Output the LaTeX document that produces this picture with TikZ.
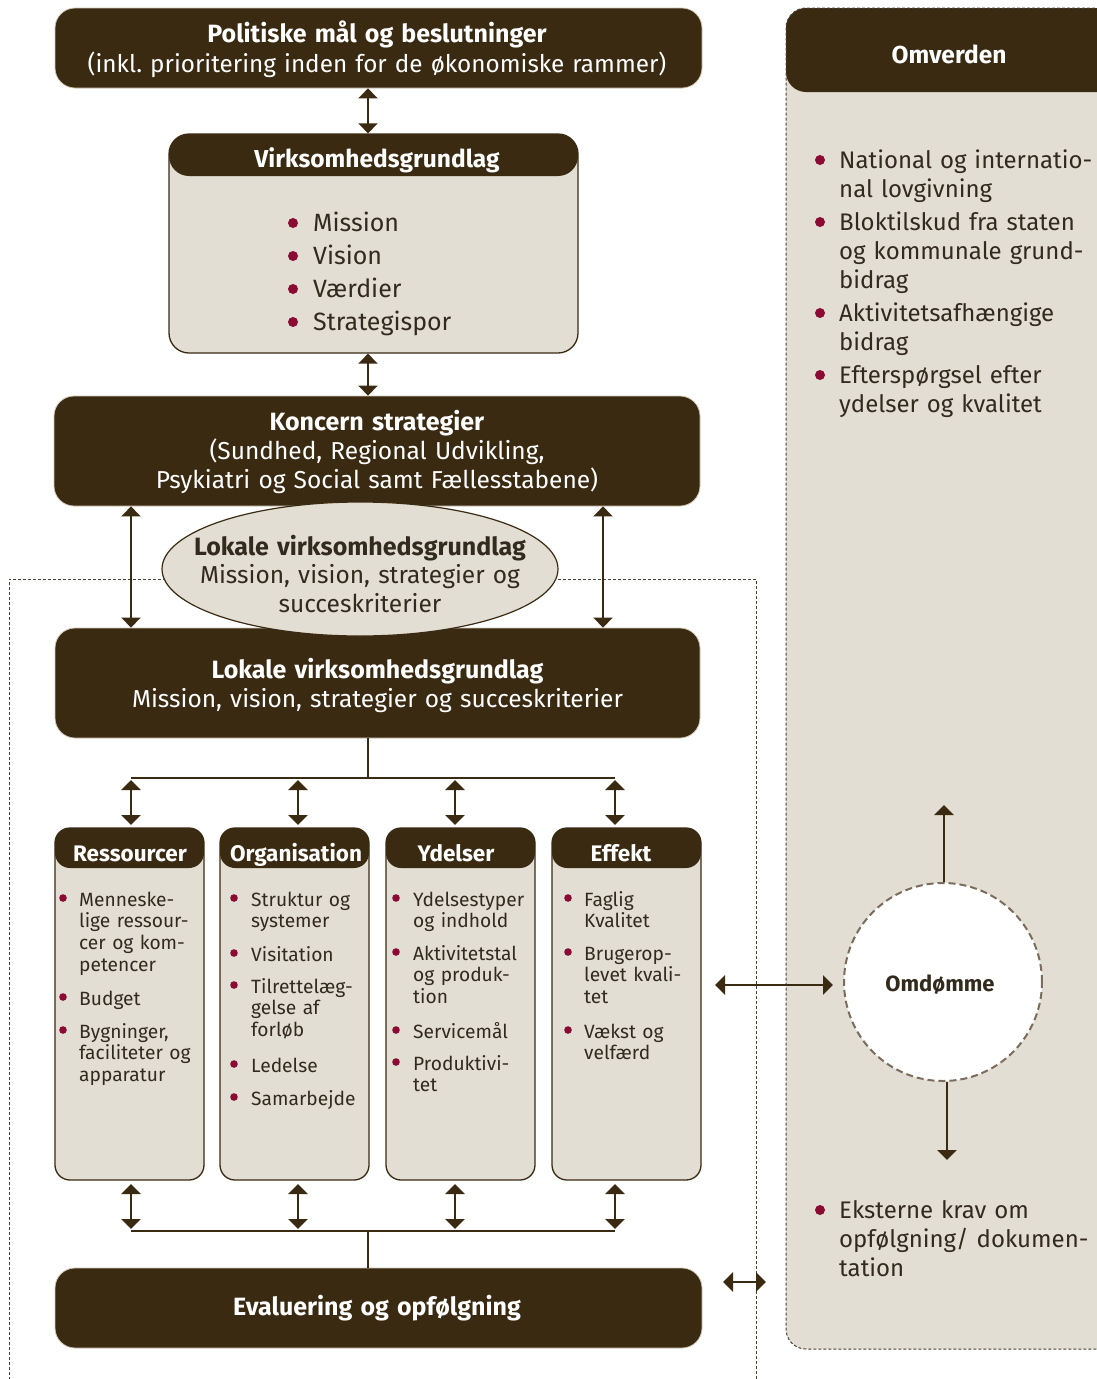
\documentclass[tikz,border=0pt]{standalone}
\usepackage{fontspec}
\setmainfont{Fira Sans}
\usetikzlibrary{arrows.meta,shapes.geometric}
\definecolor{dark}{HTML}{3B2A12}
\definecolor{beige}{HTML}{E2DED3}
\definecolor{bul}{HTML}{8C0B34}
\definecolor{txt}{HTML}{332A1E}
\definecolor{edgec}{HTML}{CFC6B4}
\definecolor{circb}{HTML}{7B6C5C}
\definecolor{dotc}{HTML}{4A4038}
% #1 name, #2 bullet x, #3 text x, #4 baseline y, #5 bullet radius, #6 style, #7 text
\newcommand\bitem[7]{%
  \fill[bul] (#2,#4-8) circle (#5pt);
  \node[#6] (#1) at (#3,#4) {#7};}
\newcommand\tbf[1]{{\fontsize{25}{29}\selectfont\bfseries #1}}
\tikzset{
  darkbox/.style={draw=edgec, line width=0.8pt, fill=dark, rounded corners=20pt, inner sep=0pt},
  panel/.style={draw=dark, line width=1.3pt, fill=beige, inner sep=0pt},
  hdrfill/.style={path picture={\fill[dark] (path picture bounding box.north west) rectangle ([yshift=-#1]path picture bounding box.north east);}},
  titletxt/.style={text=white, inner sep=0pt, anchor=base, align=center, text width=640pt, font=\frenchspacing\fontsize{24.5}{29}\selectfont},
  hdrtxt/.style={text=white, inner sep=0pt, anchor=base, font=\bfseries\fontsize{24.5}{28}\selectfont},
  colhdr/.style={text=white, inner sep=0pt, anchor=base, font=\bfseries\fontsize{22.5}{26}\selectfont},
  colitem/.style={anchor=base west, inner sep=0pt, align=left, text width=140pt, text=txt, font=\fontsize{19.2}{21.8}\selectfont},
  omvitem/.style={anchor=base west, inner sep=0pt, align=left, text width=280pt, text=txt, font=\fontsize{24}{29}\selectfont},
  viritem/.style={anchor=base west, inner sep=0pt, align=left, text width=220pt, text=txt, font=\fontsize{25}{29}\selectfont},
  dbl/.style={{Triangle[length=10pt,width=19pt]}-{Triangle[length=10pt,width=19pt]}, line width=2.6pt, draw=dark},
  one/.style={-{Triangle[length=10pt,width=19pt]}, line width=2.6pt, draw=dark},
  conn/.style={line width=1.6pt, draw=dark},
  frame/.style={draw=dotc, line width=0.9pt, dash pattern=on 3pt off 2pt},
}
\begin{document}
\begin{tikzpicture}[x=1pt,y=-1pt]
\useasboundingbox (0,0) rectangle (1097,1379);
\clip (0,0) rectangle (1097,1379);

% column reference coordinates
\coordinate (xa) at (368,0);
\coordinate (xl) at (131,0);
\coordinate (xr) at (603,0);

% dotted frame
\draw[frame] (9,1390) -- (9,579) -- (756,579) -- (756,1390);

% Omverden panel
\node[panel, draw=dotc, line width=1pt, dash pattern=on 3pt off 2pt, rounded corners=20pt,
      minimum width=344pt, minimum height=1341pt, hdrfill=84pt] (omv) at (958,678.5) {};
\node[hdrtxt] (omvT) at (949,63) {Omverden};
\bitem{o1}{820}{839}{168}{5}{omvitem}{National og internatio-\\nal lovgivning}
\bitem{o2}{820}{839}{230}{5}{omvitem}{Bloktilskud fra staten\\og kommunale grund-\\bidrag}
\bitem{o3}{820}{839}{321}{5}{omvitem}{Aktivitetsafhængige\\bidrag}
\bitem{o4}{820}{839}{383}{5}{omvitem}{Efterspørgsel efter\\ydelser og kvalitet}
\bitem{o5}{820}{839}{1218}{5}{omvitem}{Eksterne krav om\\opfølgning/ dokumen-\\tation}

% Omdømme
\node[circle, fill=white, draw=circb, line width=2pt, dash pattern=on 7pt off 4pt,
      minimum size=198pt, inner sep=0pt] (circ) at (943,982) {};
\node[text=txt, inner sep=0pt, font=\bfseries\fontsize{22}{26}\selectfont] (circT) at (940,985) {Omdømme};
\coordinate (upT) at (944,805);
\coordinate (dnT) at (947,1160);
\draw[one] (circ.north -| upT) -- (upT);
\draw[one] (circ.south -| dnT) -- (dnT);

% Politiske
\node[darkbox, minimum width=647pt, minimum height=80pt] (pol) at (378.5,48) {};
\node[titletxt, font=\frenchspacing\fontsize{24.3}{30.5}\selectfont] (polT) at (377,42) {\tbf{Politiske mål og beslutninger}\\(inkl. prioritering inden for de økonomiske rammer)};

% Virksomhedsgrundlag
\node[panel, rounded corners=20pt, minimum width=409pt, minimum height=219pt, hdrfill=42pt] (virk) at (373.5,243.5) {};
\node[hdrtxt] (virkT) at (377,167) {Virksomhedsgrundlag};
\bitem{v1}{293}{313}{231}{5}{viritem}{Mission}
\bitem{v2}{293}{313}{264}{5}{viritem}{Vision}
\bitem{v3}{293}{313}{297}{5}{viritem}{Værdier}
\bitem{v4}{293}{313}{330}{5}{viritem}{Strategispor}

% Koncern
\node[darkbox, minimum width=646pt, minimum height=110pt] (kon) at (377,451) {};
\node[titletxt] (konT) at (377,430) {\tbf{Koncern strategier}\\(Sundhed, Regional Udvikling,\\Psykiatri og Social samt Fællesstabene)};

% Lokale
\node[darkbox, minimum width=645pt, minimum height=110pt] (lok) at (377.5,683) {};
\node[titletxt] (lokT) at (377.5,678) {\tbf{Lokale virksomhedsgrundlag}\\Mission, vision, strategier og succeskriterier};

% ellipse
\node[ellipse, draw=dark, line width=1.2pt, fill=beige, minimum width=396pt, minimum height=134pt, inner sep=0pt] (ell) at (360,569) {};
\node[titletxt, text=txt, font=\frenchspacing\fontsize{24.5}{28.5}\selectfont] (ellT) at (360,555) {\tbf{Lokale virksomhedsgrundlag}\\Mission, vision, strategier og\\succeskriterier};

% upper arrows
\draw[dbl] (pol.south -| xa) -- (virk.north -| xa);
\draw[dbl] (virk.south -| xa) -- (kon.north -| xa);
\draw[dbl] (kon.south -| xl) -- (lok.north -| xl);
\draw[dbl] (kon.south -| xr) -- (lok.north -| xr);

% columns
\node[panel, rounded corners=15pt, minimum width=149pt, minimum height=352pt, hdrfill=40pt] (res) at (129.5,1004) {};
\node[panel, rounded corners=15pt, minimum width=149pt, minimum height=352pt, hdrfill=40pt] (org) at (294.5,1004) {};
\node[panel, rounded corners=15pt, minimum width=149pt, minimum height=352pt, hdrfill=40pt] (yde) at (460.5,1004) {};
\node[panel, rounded corners=15pt, minimum width=149pt, minimum height=352pt, hdrfill=40pt] (eff) at (626.5,1004) {};
\node[colhdr] (resT) at (130,861) {Ressourcer};
\node[colhdr] (orgT) at (296,861) {Organisation};
\node[colhdr] (ydeT) at (456,861) {Ydelser};
\node[colhdr] (effT) at (621,861) {Effekt};

\bitem{r1}{63}{79}{906}{3.8}{colitem}{Menneske-\\lige ressour-\\cer og kom-\\petencer}
\bitem{r2}{63}{79}{1005}{3.8}{colitem}{Budget}
\bitem{r3}{63}{79}{1038}{3.8}{colitem}{Bygninger,\\faciliteter og\\apparatur}

\bitem{g1}{234}{251}{906}{3.8}{colitem}{Struktur og\\systemer}
\bitem{g2}{234}{251}{961}{3.8}{colitem}{Visitation}
\bitem{g3}{234}{251}{993}{3.8}{colitem}{Tilrettelæg-\\gelse af\\forløb}
\bitem{g4}{234}{251}{1072}{3.8}{colitem}{Ledelse}
\bitem{g5}{234}{251}{1105}{3.8}{colitem}{Samarbejde}

\bitem{y1}{396}{413}{906}{3.8}{colitem}{Ydelsestyper\\og indhold}
\bitem{y2}{396}{413}{960}{3.8}{colitem}{Aktivitetstal\\og produk-\\tion}
\bitem{y3}{396}{413}{1038}{3.8}{colitem}{Servicemål}
\bitem{y4}{396}{413}{1070}{3.8}{colitem}{Produktivi-\\tet}

\bitem{e1}{568}{584}{906}{3.8}{colitem}{Faglig\\Kvalitet}
\bitem{e2}{568}{584}{960}{3.8}{colitem}{Brugerop-\\levet kvali-\\tet}
\bitem{e3}{568}{584}{1038}{3.8}{colitem}{Vækst og\\velfærd}

% Evaluering
\node[darkbox, minimum width=647pt, minimum height=80pt] (eval) at (378.5,1308) {};
\node[titletxt] (evalT) at (377,1315) {\tbf{Evaluering og opfølgning}};

% distribution above columns
\coordinate (h1) at (368,778);
\coordinate (h1L) at (131,778);
\coordinate (h1R) at (615,778);
\draw[conn] (lok.south -| h1) -- (h1);
\draw[conn] (h1L) -- (h1R);
\foreach \x [count=\i] in {131,298,455,615}{
  \coordinate (t\i) at (\x,780);
  \coordinate (u\i) at (\x,825);
  \draw[dbl] (t\i) -- (u\i);
}
% distribution below columns
\coordinate (h2) at (368,1231);
\coordinate (h2L) at (131,1231);
\coordinate (h2R) at (615,1231);
\draw[conn] (h2L) -- (h2R);
\draw[conn] (h2) -- (eval.north -| h2);
\foreach \x [count=\i] in {131,298,455,615}{
  \coordinate (p\i) at (\x,1184);
  \coordinate (q\i) at (\x,1229);
  \draw[dbl] (p\i) -- (q\i);
}

% side arrows
\coordinate (hL) at (715,985);
\coordinate (hR) at (833,985);
\draw[dbl] (hL) -- (hR);
\coordinate (sL) at (723,1282);
\coordinate (sR) at (766,1282);
\draw[dbl] (sL) -- (sR);
\end{tikzpicture}
\end{document}
